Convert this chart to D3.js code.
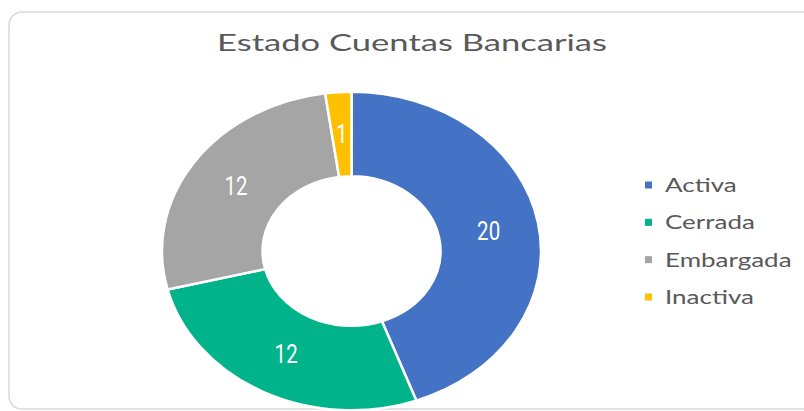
<!DOCTYPE html>
<html>
<head>
<meta charset="utf-8">
<script src="https://cdn.jsdelivr.net/npm/d3@7"></script>
<style>
  html, body { margin: 0; padding: 0; background: #fff; }
  svg { display: block; }
</style>
</head>
<body>
<svg id="chart" width="804" height="411"></svg>
<script>
const titleText = "Estado Cuentas Bancarias";
const categories = ["Activa", "Cerrada", "Embargada", "Inactiva"];
const values = [20, 12, 12, 1];
const colors = ["#4472C4", "#00B38B", "#A5A5A5", "#FFC000"];

const W = 804, H = 411;
const svg = d3.select("#chart");

// Card border
svg.append("rect")
  .attr("x", 9).attr("y", 12)
  .attr("width", 810).attr("height", 397)
  .attr("rx", 13).attr("ry", 13)
  .attr("fill", "#fff")
  .attr("stroke", "#d9d9d9")
  .attr("stroke-width", 1.5);

// Title
svg.append("text")
  .attr("x", 412).attr("y", 51)
  .attr("text-anchor", "middle")
  .attr("font-family", "Lato, 'Noto Sans', sans-serif")
  .attr("font-weight", 400)
  .attr("font-size", 24)
  .attr("fill", "#595959")
  .attr("textLength", 390)
  .attr("lengthAdjust", "spacingAndGlyphs")
  .text(titleText);

// Donut
const cx = 351.5, cy = 251, rOuter = 189.5, rInner = 89, sy = 0.84;
const pie = d3.pie().sort(null).value(d => d)(values);
const arc = d3.arc().innerRadius(rInner).outerRadius(rOuter);

const g = svg.append("g").attr("transform", `translate(${cx},${cy})`);
g.append("g").attr("transform", `scale(1,${sy})`)
  .selectAll("path")
  .data(pie)
  .join("path")
  .attr("d", arc)
  .attr("fill", (d, i) => colors[i])
  .attr("stroke", "#fff")
  .attr("stroke-width", 2.5)
  .attr("vector-effect", "non-scaling-stroke");

g.selectAll("text.lbl")
  .data(pie)
  .join("text")
  .attr("class", "lbl")
  .attr("transform", d => {
    const [x, y] = arc.centroid(d);
    return `translate(${x},${y * sy}) scale(0.82,1)`;
  })
  .attr("text-anchor", "middle")
  .attr("dy", "0.36em")
  .attr("font-family", "Roboto, sans-serif")
  .attr("font-weight", 400)
  .attr("font-size", 25)
  .attr("fill", "#fff")
  .text(d => d.data);

// Legend
const lg = svg.append("g");
const legY = d3.scalePoint().domain(categories).range([185, 297]);
categories.forEach((c, i) => {
  const y = legY(c);
  lg.append("rect")
    .attr("x", 645).attr("y", y - 3.5)
    .attr("width", 7).attr("height", 7)
    .attr("fill", colors[i]);
  lg.append("text")
    .attr("transform", `translate(665,${y + 7}) scale(1.3,1)`)
    .attr("font-family", "Lato, 'Noto Sans', sans-serif")
    .attr("font-weight", 400)
    .attr("font-size", 20)
    .attr("fill", "#595959")
    .text(c);
});
</script>
</body>
</html>
